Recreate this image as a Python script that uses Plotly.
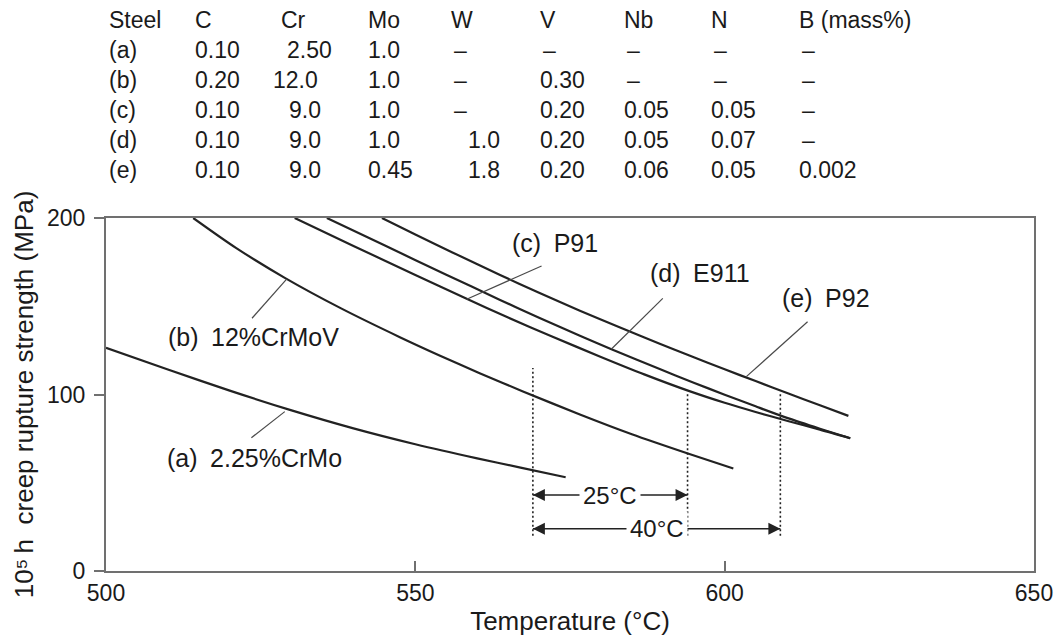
import plotly.graph_objects as go

# ---- 10^5 h creep rupture strength vs temperature (°C -> MPa) ----
temp_a = [500, 510, 520, 530, 540, 550, 560, 567, 574.3]
stress_a = [126.5, 114.2, 102.2, 91.0, 80.8, 71.8, 63.8, 58.6, 53.1]

temp_b = [514.1, 521, 528.9, 538, 547.5, 554, 560.4, 567.3, 576.6, 585, 594.3, 601.4]
stress_b = [200, 183.1, 166.1, 148.8, 132.5, 122.0, 112.1, 101.9, 88.7, 77.5, 66.3, 58.1]

temp_c = [530.5, 540, 550, 558.3, 565, 572, 580, 587, 594.3, 600, 605, 610.2, 615.4, 620.3]
stress_c = [200, 184.2, 167.7, 154.2, 143.6, 133.0, 121.3, 111.4, 101.9, 95.3, 90.1, 85.0, 80.1, 75.2]

temp_d = [535.7, 545, 555, 563.7, 570, 576.6, 581.7, 589.5, 595, 600, 605, 610.2, 615.4, 620.3]
stress_d = [200, 184.5, 167.9, 153.6, 143.5, 133.3, 125.7, 114.4, 106.7, 99.9, 93.3, 86.6, 80.6, 75.2]

temp_e = [544.6, 550, 556, 563.7, 570, 576.6, 583, 589.5, 594.3, 600, 605, 610.2, 615.4, 620]
stress_e = [200, 190.7, 180.5, 167.7, 157.6, 147.5, 138.1, 128.8, 122.1, 114.3, 107.6, 100.7, 93.9, 87.9]

curve_names = ["(a) 2.25%CrMo", "(b) 12%CrMoV", "(c) P91", "(d) E911", "(e) P92"]

# temperature gain at 100 MPa relative to 12%CrMoV
ref_temp = 569.0
gains = [25, 40]

# ---- chemical composition table (mass%) ----
steel_ids = ["(a)", "(b)", "(c)", "(d)", "(e)"]
elements = ["C", "Cr", "Mo", "W", "V", "Nb", "N", "B (mass%)"]
comp_C = ["0.10", "0.20", "0.10", "0.10", "0.10"]
comp_Cr = ["2.50", "12.0", "9.0", "9.0", "9.0"]
comp_Mo = ["1.0", "1.0", "1.0", "1.0", "0.45"]
comp_W = ["–", "–", "–", "1.0", "1.8"]
comp_V = ["–", "0.30", "0.20", "0.20", "0.20"]
comp_Nb = ["–", "–", "0.05", "0.05", "0.06"]
comp_N = ["–", "–", "0.05", "0.07", "0.05"]
comp_B = ["–", "–", "–", "–", "0.002"]

x_ticks = [500, 550, 600, 650]
y_ticks = [0, 100, 200]

# ---- layout geometry ----
W, H = 1061, 636
L, R, T, B = 106, 27, 218, 65
FONT = "Liberation Sans, Arial, Helvetica, sans-serif"
INK = "#1a1a1a"
FRAME = "#707070"


def px_to_paper(px, py):
    return (px - L) / (W - L - R), (H - B - py) / (H - T - B)


fig = go.Figure()

curves = [(temp_a, stress_a), (temp_b, stress_b), (temp_c, stress_c),
          (temp_d, stress_d), (temp_e, stress_e)]
for (tx, sy), name in zip(curves, curve_names):
    fig.add_trace(go.Scatter(
        x=tx, y=sy, mode="lines", name=name, showlegend=False,
        line=dict(color="#222222", width=2.2, shape="spline", smoothing=0.8),
        hoverinfo="skip"))

# label placement (left edge of text, vertical centre) and leader lines
label_pos = [(509.5, 64.0), (509.7, 132.7), (565.3, 185.7), (587.6, 168.7), (608.9, 154.5)]
leaders = [((523.5, 75.5), (528.9, 90.3)),
           ((523.6, 143.2), (529.2, 165.4)),
           ((570.4, 172.8), (558.3, 154.0)),
           ((590.0, 154.5), (581.7, 125.8)),
           ((613.4, 141.2), (603.5, 110.1))]

for (p0, p1) in leaders:
    fig.add_trace(go.Scatter(
        x=[p0[0], p1[0]], y=[p0[1], p1[1]], mode="lines", showlegend=False,
        line=dict(color="#4a4a4a", width=1.2), hoverinfo="skip"))

annotations = []
for name, (lx, ly) in zip(curve_names, label_pos):
    tag, rest = name.split(" ", 1)
    annotations.append(dict(
        x=lx, y=ly, xref="x", yref="y", text=tag + "\u2002" + rest,
        showarrow=False, xanchor="left", yanchor="middle",
        font=dict(family=FONT, size=25, color=INK)))

# dotted reference lines at 100 MPa crossing temperatures
dotted_x = [ref_temp] + [ref_temp + g for g in gains]
dotted_top = [115, 101, 101]
for dx, dt in zip(dotted_x, dotted_top):
    fig.add_trace(go.Scatter(
        x=[dx, dx], y=[20, dt], mode="lines", showlegend=False,
        line=dict(color="#222222", width=1.6, dash="2px,2.5px"), hoverinfo="skip"))

# double-headed dimension arrows with their temperature gain in the middle
arrow_y = [43, 24]
for g, ay in zip(gains, arrow_y):
    x0, x1 = ref_temp, ref_temp + g
    fig.add_trace(go.Scatter(
        x=[x0, x1], y=[ay, ay], mode="lines+markers", showlegend=False,
        line=dict(color="#222222", width=1.5),
        marker=dict(symbol=["arrow-left", "arrow-right"], size=12, color="#222222",
                    line=dict(width=0)),
        hoverinfo="skip", cliponaxis=False))
    annotations.append(dict(
        x=(x0 + x1) / 2, y=ay, xref="x", yref="y", text=f"{g}°C", showarrow=False,
        xanchor="center", yanchor="middle", bgcolor="white", borderpad=3,
        font=dict(family=FONT, size=24, color=INK)))

# composition table above the plot
col_x = [107, 193, 279, 366, 449, 538, 622, 709, 797]
row_y = [20, 50, 80, 110, 140, 170]
nudges = {"Cr": {"2.50": 6, "12.0": -8, "9.0": 8},
          "W": {"1.0": 17, "1.8": 17}}
table_cols = [comp_C, comp_Cr, comp_Mo, comp_W, comp_V, comp_Nb, comp_N, comp_B]


def cell(text, px, py):
    xp, yp = px_to_paper(px, py)
    return dict(x=xp, y=yp, xref="paper", yref="paper", text=text, showarrow=False,
                xanchor="left", yanchor="middle",
                font=dict(family=FONT, size=23, color=INK))


annotations.append(cell("Steel", col_x[0], row_y[0]))
for ci, el in enumerate(elements):
    annotations.append(cell(el, col_x[ci + 1], row_y[0]))
for ri, sid in enumerate(steel_ids):
    annotations.append(cell(sid, col_x[0], row_y[ri + 1]))
    for ci, col in enumerate(table_cols):
        val = col[ri]
        shift = nudges.get(elements[ci], {}).get(val, 0)
        if val == "–":
            shift += 3
        annotations.append(cell(val, col_x[ci + 1] + shift, row_y[ri + 1]))

axis_common = dict(showgrid=False, zeroline=False, showline=True, linecolor=FRAME,
                   linewidth=2, mirror=True, tickcolor=FRAME, tickwidth=1.5, ticklen=10,
                   automargin=False,
                   tickfont=dict(family=FONT, size=23, color=INK))

fig.update_layout(
    width=W, height=H,
    margin=dict(l=L, r=R, t=T, b=B, pad=0),
    paper_bgcolor="white", plot_bgcolor="white",
    xaxis=dict(range=[500, 650], tickvals=x_ticks, ticks="inside",
               title=dict(text="Temperature (°C)", standoff=9,
                          font=dict(family=FONT, size=26, color=INK)),
               **axis_common),
    yaxis=dict(range=[0, 200], tickvals=y_ticks, ticks="outside", ticklabelstandoff=4,
               title=dict(text="10\u2075\u2009h  creep rupture strength (MPa)", standoff=6,
                          font=dict(family=FONT, size=26, color=INK)),
               **axis_common),
    annotations=annotations,
    showlegend=False,
)

fig.write_html("out.html")
